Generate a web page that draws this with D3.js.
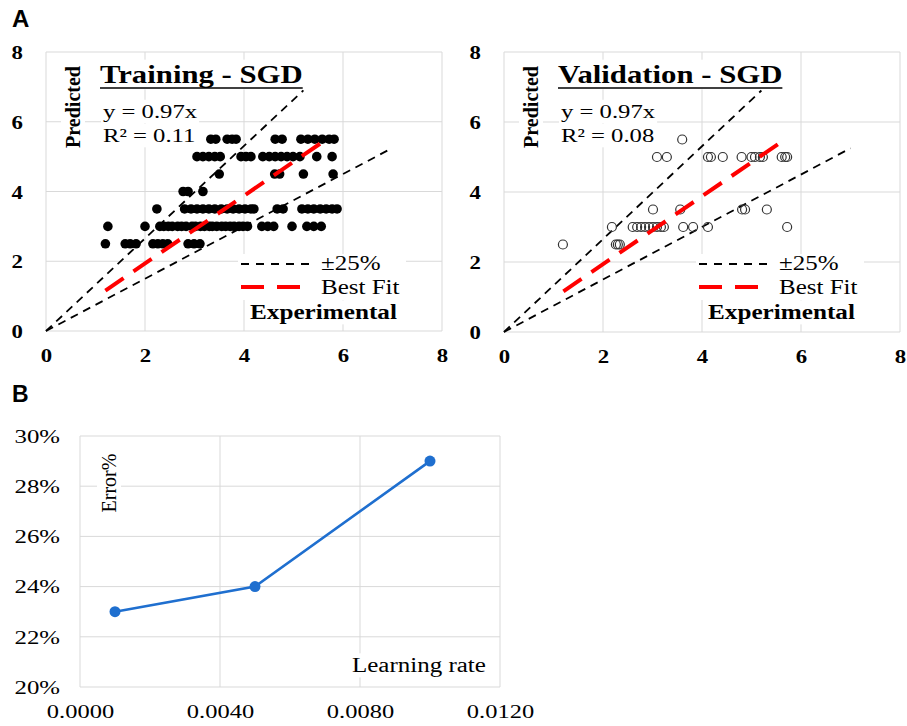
<!DOCTYPE html>
<html>
<head>
<meta charset="utf-8">
<script src="https://cdn.jsdelivr.net/npm/d3@7"></script>
<style>
  body { margin: 0; background: #fff; }
</style>
</head>
<body>
<div id="chart"></div>
<script>
// ---- data ----
const axisTicks = [0, 2, 4, 6, 8];

// training (filled dots), experimental x values per predicted level
const train25 = [1.2, 1.6, 1.7, 1.82, 2.16, 2.26, 2.36, 2.46, 2.87, 2.99, 3.11];
const train30 = [1.25, 2.0, 2.3, 2.38, 2.47, 2.55, 2.66, 2.74, 2.83, 2.95, 3.02, 3.12, 3.2, 3.3, 3.36,
                 3.45, 3.55, 3.63, 3.72, 3.8, 3.9, 3.98, 4.07, 4.36, 4.48, 4.6, 4.97, 5.27, 5.41, 5.56];
const train35 = [2.24, 2.8, 2.93, 3.05, 3.17, 3.29, 3.41, 3.54, 3.66, 3.78, 3.9, 4.02, 4.14, 4.2,
                 4.67, 4.79, 5.17, 5.29, 5.41, 5.54, 5.66, 5.78, 5.88];
const train40 = [2.77, 2.87, 3.17];
const train45 = [3.5, 4.62, 4.72, 5.2, 5.8];
const train50 = [3.05, 3.17, 3.29, 3.41, 3.52, 3.94, 4.04, 4.14, 4.38, 4.51, 4.63, 4.75, 4.87, 4.99,
                 5.13, 5.47, 5.78];
const train55 = [3.33, 3.43, 3.66, 3.76, 3.84, 4.63, 4.77, 5.15, 5.29, 5.43, 5.58, 5.72, 5.82];

// validation (open circles)
const val25 = [1.19, 2.26, 2.3, 2.34];
const val30 = [2.18, 2.6, 2.69, 2.77, 2.85, 2.93, 3.01, 3.09, 3.17, 3.23, 3.62, 3.82, 4.12, 5.72];
const val35 = [3.01, 3.56, 4.81, 4.87, 5.31];
const val50 = [3.09, 3.29, 4.12, 4.18, 4.42, 4.8, 5.0, 5.07, 5.17, 5.23, 5.61, 5.68, 5.72];
const val55 = [3.6];

// reference lines
const upperBand = [[0, 0], [5.2, 6.9]];
const lowerBand = [[0, 0], [7, 5.25]];
const trainFit = [[1.2, 1.16], [5.65, 5.48]];
const valFit = [[1.2, 1.16], [5.6, 5.43]];

// panel B
const lrValues = [0.001, 0.005, 0.010];
const errorValues = [0.23, 0.24, 0.29];
const lrTicks = [0, 0.004, 0.008, 0.012];
const errTicks = [0.20, 0.22, 0.24, 0.26, 0.28, 0.30];

// ---- setup ----
const serif = "'Liberation Serif', 'Times New Roman', serif";
const gridColor = "#d9d9d9";

const svg = d3.select("#chart").append("svg")
    .attr("width", 907)
    .attr("height", 726)
    .style("background", "#fff");

function toPoints(rows) {
    const pts = [];
    rows.forEach(r => r.xs.forEach(v => pts.push([v, r.y])));
    return pts;
}

// text wrapped in a translate + horizontal stretch, with optional white box behind
function addLabel(parent, x, y, txt, o) {
    const outer = parent.append("g")
        .attr("transform", `translate(${x},${y})` + (o.rotate ? ` rotate(${o.rotate})` : ""));
    const inner = outer.append("g").attr("transform", `scale(${o.sx || 1},1)`);
    inner.append("text")
        .attr("font-family", serif)
        .attr("font-size", o.size)
        .attr("font-weight", o.weight || "normal")
        .attr("text-anchor", o.anchor || "start")
        .attr("fill", "#000")
        .text(txt);
    const b = outer.node().getBBox();
    if (o.box) {
        outer.insert("rect", "g")
            .attr("x", b.x - 2).attr("y", b.y - 1)
            .attr("width", b.width + 4).attr("height", b.height + 2)
            .attr("fill", "#fff");
    }
    if (o.underline) {
        outer.append("line")
            .attr("x1", b.x).attr("x2", b.x + b.width)
            .attr("y1", 5).attr("y2", 5)
            .attr("stroke", "#000").attr("stroke-width", 1.6);
    }
    return outer;
}

function drawScatter(cfg) {
    const x = d3.scaleLinear().domain([0, 8]).range([cfg.left, cfg.right]);
    const y = d3.scaleLinear().domain([0, 8]).range([cfg.bottom, cfg.top]);
    const g = svg.append("g");

    // grid
    g.append("g").selectAll("line").data(axisTicks).join("line")
        .attr("x1", d => x(d)).attr("x2", d => x(d))
        .attr("y1", y(0)).attr("y2", y(8))
        .attr("stroke", gridColor);
    g.append("g").selectAll("line").data(axisTicks).join("line")
        .attr("x1", x(0)).attr("x2", x(8))
        .attr("y1", d => y(d)).attr("y2", d => y(d))
        .attr("stroke", gridColor);

    // axes
    const ya = g.append("g")
        .attr("transform", `translate(${cfg.left},0)`)
        .call(d3.axisLeft(y).tickValues(axisTicks).tickSize(0).tickFormat(d3.format("d")))
        .attr("font-family", serif).attr("font-size", 19).attr("font-weight", "bold");
    ya.select(".domain").remove();
    ya.selectAll("text").attr("x", 0).attr("dy", "0.35em")
        .attr("transform", "translate(-23,0) scale(1.2,1)");

    const xa = g.append("g")
        .attr("transform", `translate(0,${cfg.bottom})`)
        .call(d3.axisBottom(x).tickValues(axisTicks).tickSize(0).tickFormat(d3.format("d")))
        .attr("font-family", serif).attr("font-size", 19).attr("font-weight", "bold");
    xa.select(".domain").remove();
    xa.selectAll("text").attr("y", 31).attr("dy", 0)
        .attr("transform", "scale(1.2,1)");

    // band + fit lines
    const line = d3.line().x(d => x(d[0])).y(d => y(d[1]));
    [upperBand, lowerBand].forEach(b => {
        g.append("path").attr("d", line(b))
            .attr("fill", "none").attr("stroke", "#000")
            .attr("stroke-width", 1.8).attr("stroke-dasharray", "8,6");
    });

    // points
    const pts = toPoints(cfg.rows);
    const dots = g.append("g").selectAll("circle").data(pts).join("circle")
        .attr("cx", d => x(d[0])).attr("cy", d => y(d[1]));
    if (cfg.open) {
        dots.attr("r", 4.5).attr("fill", "none").attr("stroke", "#333").attr("stroke-width", 1.2);
    } else {
        dots.attr("r", 4.8).attr("fill", "#000");
    }

    g.append("path").attr("d", line(cfg.fit))
        .attr("fill", "none").attr("stroke", "#ff0000")
        .attr("stroke-width", 4).attr("stroke-dasharray", "22,12");

    // texts
    const L = cfg.left;
    addLabel(g, L + 54, 83, cfg.title, { size: 25, weight: "bold", sx: 1.23, box: true, underline: true });
    addLabel(g, L + 57, 118, "y = 0.97x", { size: 19, sx: 1.3, box: true });
    addLabel(g, L + 57, 142, cfg.r2, { size: 19, sx: 1.3, box: true });
    addLabel(g, L + 34, 107, "Predicted", { size: 20, weight: "bold", anchor: "middle", rotate: -90, box: true });

    // legend
    const lg = g.append("g");
    lg.append("rect").attr("x", L + 192).attr("y", 254).attr("width", 168).attr("height", 46).attr("fill", "#fff");
    lg.append("line").attr("x1", L + 195).attr("x2", L + 263).attr("y1", 264).attr("y2", 264)
        .attr("stroke", "#000").attr("stroke-width", 1.8).attr("stroke-dasharray", "8,7");
    lg.append("line").attr("x1", L + 195).attr("x2", L + 254).attr("y1", 287).attr("y2", 287)
        .attr("stroke", "#ff0000").attr("stroke-width", 4).attr("stroke-dasharray", "23,13");
    addLabel(lg, L + 275, 270, "±25%", { size: 20, sx: 1.25 });
    addLabel(lg, L + 275, 294, "Best Fit", { size: 20, sx: 1.25 });
    addLabel(g, L + 204, 319, "Experimental", { size: 20, weight: "bold", sx: 1.26, box: true });
}

drawScatter({
    left: 46, right: 442, top: 52, bottom: 331,
    rows: [
        { y: 2.5, xs: train25 }, { y: 3, xs: train30 }, { y: 3.5, xs: train35 },
        { y: 4, xs: train40 }, { y: 4.5, xs: train45 }, { y: 5, xs: train50 }, { y: 5.5, xs: train55 }
    ],
    fit: trainFit,
    open: false,
    title: "Training - SGD",
    r2: "R² = 0.11"
});

drawScatter({
    left: 504, right: 900, top: 52, bottom: 332,
    rows: [
        { y: 2.5, xs: val25 }, { y: 3, xs: val30 }, { y: 3.5, xs: val35 },
        { y: 5, xs: val50 }, { y: 5.5, xs: val55 }
    ],
    fit: valFit,
    open: true,
    title: "Validation - SGD",
    r2: "R² = 0.08"
});

// ---- panel B ----
const bx = d3.scaleLinear().domain([0, 0.012]).range([80, 500]);
const by = d3.scaleLinear().domain([0.20, 0.30]).range([687, 436]);
const gb = svg.append("g");

gb.append("g").selectAll("line").data(lrTicks).join("line")
    .attr("x1", d => bx(d)).attr("x2", d => bx(d))
    .attr("y1", by(0.20)).attr("y2", by(0.30))
    .attr("stroke", gridColor);
gb.append("g").selectAll("line").data(errTicks).join("line")
    .attr("x1", bx(0)).attr("x2", bx(0.012))
    .attr("y1", d => by(d)).attr("y2", d => by(d))
    .attr("stroke", gridColor);

const bya = gb.append("g")
    .attr("transform", "translate(80,0)")
    .call(d3.axisLeft(by).tickValues(errTicks).tickSize(0).tickFormat(d3.format(".0%")))
    .attr("font-family", serif).attr("font-size", 18);
bya.select(".domain").remove();
bya.selectAll("text").attr("x", 0).attr("dy", "0.35em")
    .attr("transform", "translate(-20,0) scale(1.38,1)");

const bxa = gb.append("g")
    .attr("transform", "translate(0,687)")
    .call(d3.axisBottom(bx).tickValues(lrTicks).tickSize(0).tickFormat(d3.format(".4f")))
    .attr("font-family", serif).attr("font-size", 18);
bxa.select(".domain").remove();
bxa.selectAll("text").attr("y", 31).attr("dy", 0)
    .attr("transform", "scale(1.36,1)");

const errPts = lrValues.map((v, i) => [v, errorValues[i]]);
gb.append("path")
    .attr("d", d3.line().x(d => bx(d[0])).y(d => by(d[1]))(errPts))
    .attr("fill", "none").attr("stroke", "#1f6fcf").attr("stroke-width", 2.6);
gb.append("g").selectAll("circle").data(errPts).join("circle")
    .attr("cx", d => bx(d[0])).attr("cy", d => by(d[1]))
    .attr("r", 5.5).attr("fill", "#1f6fcf");

addLabel(gb, 116, 483, "Error%", { size: 20, anchor: "middle", rotate: -90, box: true });
addLabel(gb, 352, 672, "Learning rate", { size: 20, sx: 1.25, box: true });

// panel letters
svg.append("text").attr("x", 12).attr("y", 27)
    .attr("font-family", "'Liberation Sans', Arial, sans-serif")
    .attr("font-weight", "bold").attr("font-size", 24).text("A");
svg.append("text").attr("x", 12).attr("y", 402)
    .attr("font-family", "'Liberation Sans', Arial, sans-serif")
    .attr("font-weight", "bold").attr("font-size", 23).text("B");
</script>
</body>
</html>
